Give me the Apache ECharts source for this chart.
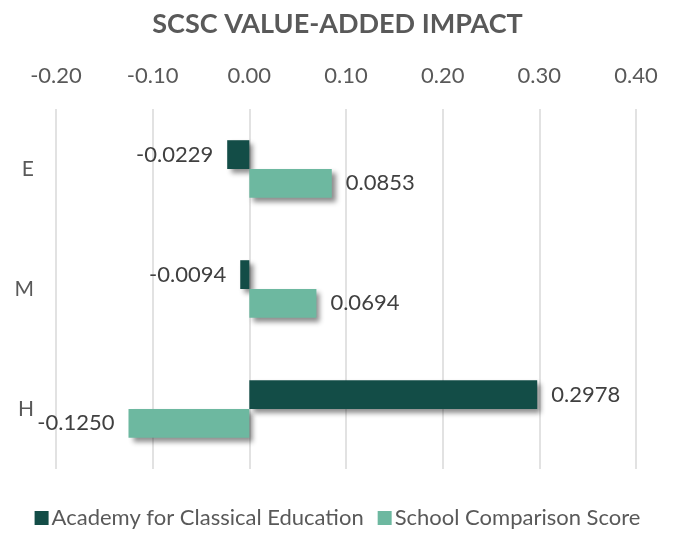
<!DOCTYPE html>
<html>
<head>
<meta charset="utf-8">
<script src="https://cdn.jsdelivr.net/npm/echarts@6/dist/echarts.min.js"></script>
<style>
  html, body { margin: 0; padding: 0; background: #fff; }
  #chart { width: 675px; height: 534px; }
</style>
</head>
<body>
<div id="chart"></div>
<script>
// categories, top to bottom
var categories = ["E", "M", "H"];
var academyValues = [-0.0229, -0.0094, 0.2978];
var comparisonValues = [0.0853, 0.0694, -0.1250];
var seriesNames = ["Academy for Classical Education", "School Comparison Score"];

var myChart = echarts.init(document.getElementById("chart"));

function withLabels(values) {
  return values.map(function (v) {
    return {
      value: v,
      label: { position: v < 0 ? "left" : "right" },
    };
  });
}

var font = "Lato, 'Open Sans', sans-serif";
var shadow = {
  shadowBlur: 5,
  shadowOffsetX: 4,
  shadowOffsetY: 4,
  shadowColor: "rgba(0,0,0,0.45)",
};

myChart.setOption({
  animation: false,
  title: {
    text: "SCSC VALUE-ADDED IMPACT",
    left: "center",
    top: 6,
    textStyle: {
      fontFamily: font,
      fontSize: 27,
      fontWeight: "bold",
      color: "#595959",
    },
  },
  legend: {
    bottom: 0,
    left: "center",
    itemWidth: 14,
    itemHeight: 14,
    itemGap: 14,
    icon: "rect",
    textStyle: { fontFamily: font, fontSize: 22, color: "#595959", padding: [0, 0, 0, -2] },
    data: seriesNames,
  },
  grid: {
    left: 56,
    right: 39,
    top: 109,
    bottom: 65,
    containLabel: false,
  },
  xAxis: {
    type: "value",
    position: "top",
    min: -0.2,
    max: 0.4,
    interval: 0.1,
    axisLine: { show: false },
    axisTick: { show: false },
    axisLabel: {
      margin: 22,
      fontFamily: font,
      fontSize: 22,
      color: "#595959",
      formatter: function (v) { return v.toFixed(2); },
    },
    splitLine: { lineStyle: { color: "#d9d9d9", width: 1.5 } },
  },
  yAxis: {
    type: "category",
    inverse: true,
    data: categories,
    axisLine: { show: false },
    axisTick: { show: false },
    axisLabel: {
      margin: 22,
      fontFamily: font,
      fontSize: 21,
      color: "#595959",
    },
  },
  series: [
    {
      name: seriesNames[0],
      type: "bar",
      barGap: "0%",
      barCategoryGap: "52%",
      data: withLabels(academyValues),
      itemStyle: Object.assign({ color: "#134d47" }, shadow),
      label: {
        show: true,
        distance: 14,
        fontFamily: font,
        fontSize: 22,
        color: "#404040",
        formatter: function (p) { return p.value.toFixed(4); },
      },
    },
    {
      name: seriesNames[1],
      type: "bar",
      data: withLabels(comparisonValues),
      itemStyle: Object.assign({ color: "#6db8a0" }, shadow),
      label: {
        show: true,
        distance: 14,
        fontFamily: font,
        fontSize: 22,
        color: "#404040",
        formatter: function (p) { return p.value.toFixed(4); },
      },
    },
  ],
});
</script>
</body>
</html>
